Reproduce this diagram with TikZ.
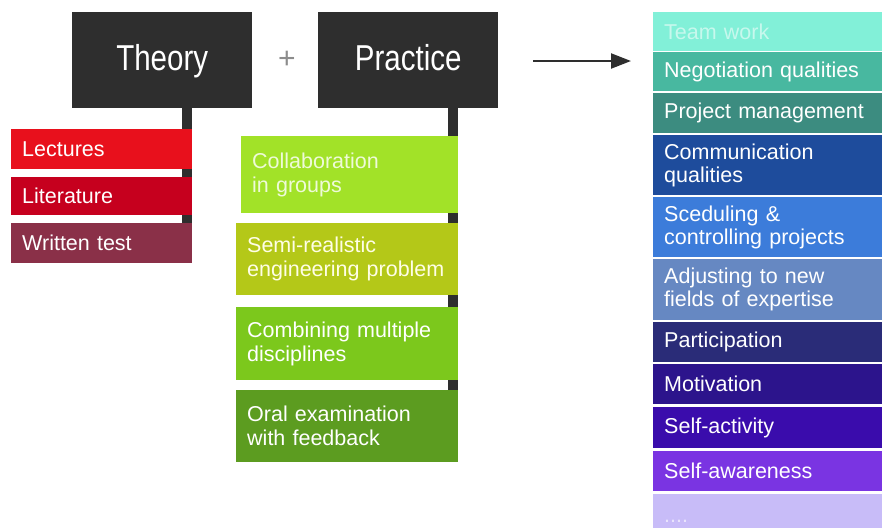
\documentclass[tikz,border=0pt]{standalone}
\usepackage{fontspec}
\setmainfont{Liberation Sans}
\usetikzlibrary{arrows.meta,backgrounds}

% heading boxes
\definecolor{headgray}{HTML}{2E2E2E}
% theory items
\definecolor{cLect}{HTML}{E8101C}
\definecolor{cLit}{HTML}{C6001E}
\definecolor{cTest}{HTML}{8A3048}
% practice items
\definecolor{cColl}{HTML}{A2E228}
\definecolor{cSemi}{HTML}{B4C818}
\definecolor{cComb}{HTML}{7CC81C}
\definecolor{cOral}{HTML}{5C9C20}
% outcome list
\definecolor{cTeam}{HTML}{82F0D8}
\definecolor{cNego}{HTML}{48B8A0}
\definecolor{cProj}{HTML}{3C8C80}
\definecolor{cComm}{HTML}{1E4C9C}
\definecolor{cSced}{HTML}{3C7CDA}
\definecolor{cAdj}{HTML}{6688C2}
\definecolor{cPart}{HTML}{2A2C78}
\definecolor{cMot}{HTML}{2C148C}
\definecolor{cSelfA}{HTML}{3A0CAC}
\definecolor{cSelfW}{HTML}{7A34E2}
\definecolor{cMore}{HTML}{C8BCF8}

\begin{document}
\begin{tikzpicture}[x=1pt,y=-1pt,
  headbox/.style={anchor=north west, fill=headgray, text=white, inner sep=0pt,
    minimum width=180pt, minimum height=96pt, text height=27pt, text depth=7pt,
    font=\fontsize{36}{40}\selectfont},
  item/.style={anchor=north west, inner xsep=11pt, inner ysep=0pt, align=left,
    text=white, font=\fontsize{21.5}{24}\selectfont},
  tbox/.style={item, minimum width=181pt, text width=159pt},
  pbox/.style={item, minimum width=222pt, text width=200pt},
  rbox/.style={item, minimum width=229pt, text width=207pt, font=\fontsize{21.5}{23}\selectfont},
  bar/.style={line width=10pt, draw=headgray},
  arrowline/.style={line width=2.2pt, draw=headgray, -{Triangle[length=20pt,width=15pt]}}
  ]
\useasboundingbox (0,0) rectangle (882,528);

% headings
\node[headbox] (theory) at (72,12) {\scalebox{0.82}[1]{Theory}};
\node[headbox] (practice) at (318,12) {\scalebox{0.82}[1]{Practice}};
\node[text=gray!90, font=\fontsize{30}{30}\selectfont, inner sep=0pt] (plus) at (287,60) {+};

% theory column
\node[tbox, fill=cLect, minimum height=40pt] (lect) at (11,129) {Lectures};
\node[tbox, fill=cLit, minimum height=38pt] (lit) at (11,177) {Literature};
\node[tbox, fill=cTest, minimum height=40pt] (wtest) at (11,223) {Written test};

% practice column
\node[pbox, fill=cColl, minimum width=217pt, text width=195pt, minimum height=77pt,
      text=white!82!cColl] (coll) at (241,136) {Collaboration\\in groups};
\node[pbox, fill=cSemi, minimum height=72pt, text=white!90!yellow] (semi) at (236,223)
      {Semi-realistic\\engineering problem};
\node[pbox, fill=cComb, minimum height=73pt] (comb) at (236,307)
      {Combining multiple\\disciplines};
\node[pbox, fill=cOral, minimum height=72pt] (oral) at (236,390)
      {Oral examination\\with feedback};

% outcome column
\node[rbox, fill=cTeam, minimum height=39pt, text=white!55!cTeam] (team) at (653,12) {Team work};
\node[rbox, fill=cNego, minimum height=39pt] (nego) at (653,52) {Negotiation qualities};
\node[rbox, fill=cProj, minimum height=40pt] (proj) at (653,93) {Project management};
\node[rbox, fill=cComm, minimum height=60pt] (comm) at (653,135) {Communication\\qualities};
\node[rbox, fill=cSced, minimum height=60pt] (sced) at (653,197) {Sceduling \&\\controlling projects};
\node[rbox, fill=cAdj, minimum height=61pt] (adj) at (653,259) {Adjusting to new\\fields of expertise};
\node[rbox, fill=cPart, minimum height=40pt] (part) at (653,322) {Participation};
\node[rbox, fill=cMot, minimum height=40pt] (mot) at (653,364) {Motivation};
\node[rbox, fill=cSelfA, minimum height=41pt] (selfa) at (653,407) {Self-activity};
\node[rbox, fill=cSelfW, minimum height=40pt] (selfw) at (653,451) {Self-awareness};
\node[rbox, fill=cMore, minimum height=34pt, text height=22pt, text depth=0pt,
      text=white!60!cMore] (more) at (653,494) {....};

% connector bars behind the item boxes
\begin{scope}[on background layer]
  \draw[bar] ([xshift=-5pt]theory.south -| wtest.east) -- ([xshift=-5pt]wtest.north east);
  \draw[bar] ([xshift=-5pt]practice.south -| oral.east) -- ([xshift=-5pt]oral.north east);
\end{scope}

% arrow towards the outcome column
\coordinate (arrowstart) at (533,61);
\coordinate (arrowend) at (631,61);
\draw[arrowline] (arrowstart) -- (arrowend);
\end{tikzpicture}
\end{document}
